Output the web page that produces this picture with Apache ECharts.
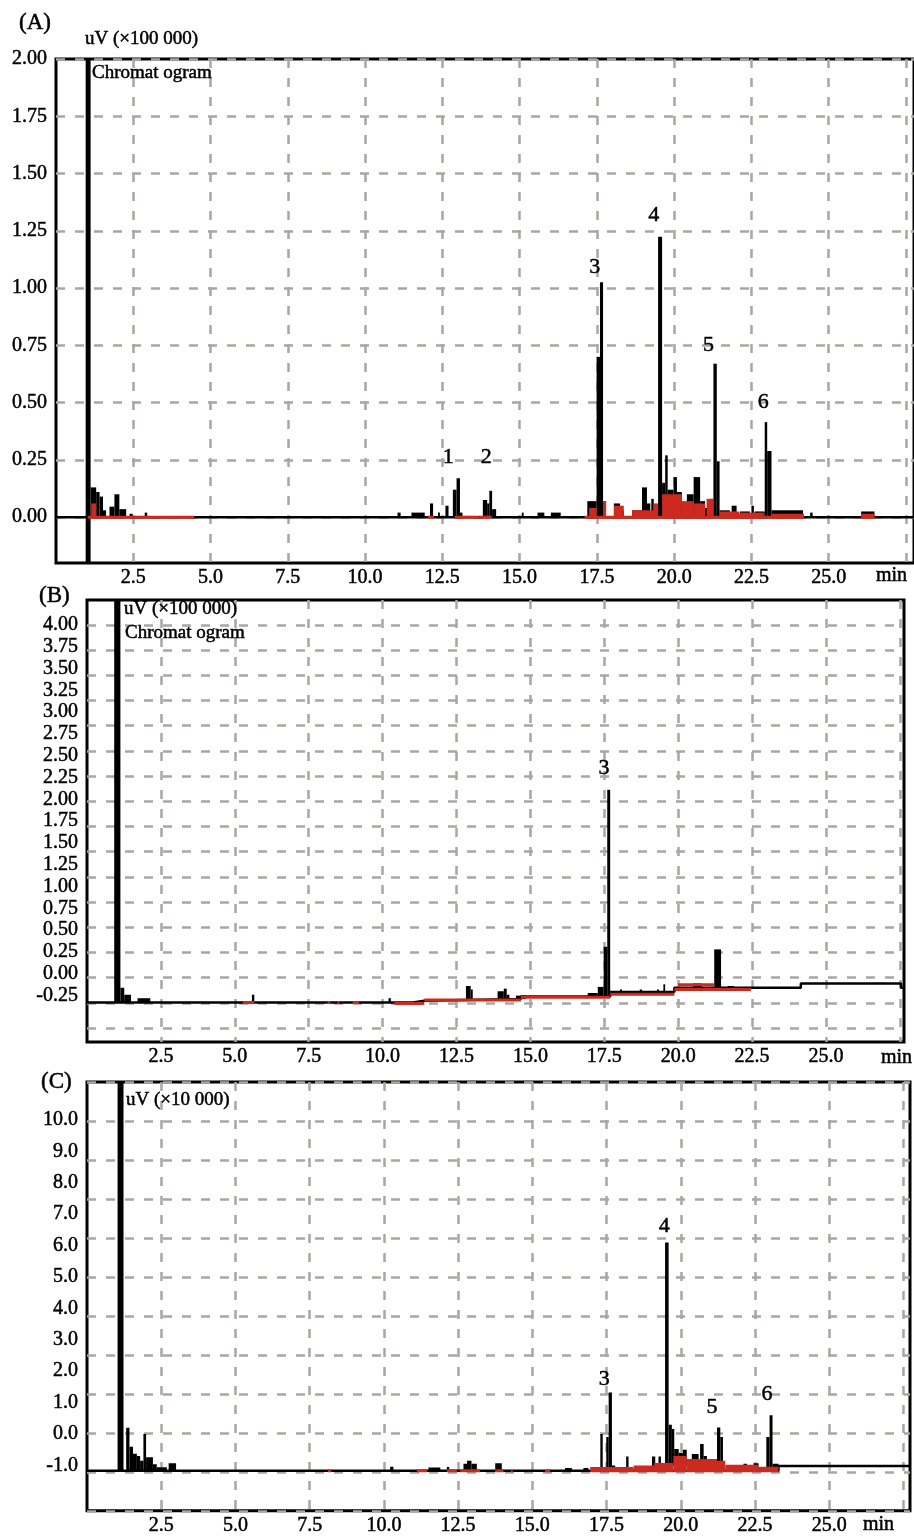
<!DOCTYPE html>
<html>
<head>
<meta charset="utf-8">
<script src="https://cdn.jsdelivr.net/npm/echarts@6/dist/echarts.min.js"></script>
<style>
html, body { margin: 0; padding: 0; background: #fff; }
#chart { width: 914px; height: 1536px; }
</style>
</head>
<body>
<div id="chart"></div>
<script>
// time axis (min) - shared by the three chromatograms
var xGridVals = [2.5, 5, 7.5, 10, 12.5, 15, 17.5, 20, 22.5, 25, 27.5];
var xLabelVals = [2.5, 5, 7.5, 10, 12.5, 15, 17.5, 20, 22.5, 25];

// ---- (A) uV x100 000 ----
var yTicksA = [0, 0.25, 0.5, 0.75, 1, 1.25, 1.5, 1.75, 2];
// peak blocks: [start, end, top, bottom]
var peaksA = [
  [0.96, 1.12, 2.0, -0.2],
  [1.12, 1.30, 0.13, 0], [1.30, 1.41, 0.11, 0], [1.41, 1.52, 0.09, 0], [1.52, 1.62, 0.03, 0],
  [1.73, 1.89, 0.046, 0], [1.89, 2.05, 0.10, 0], [2.05, 2.27, 0.035, 0], [2.38, 2.48, 0.015, 0],
  [2.87, 2.95, 0.02, 0],
  [11.05, 11.15, 0.02, 0], [11.5, 11.93, 0.02, 0], [12.1, 12.2, 0.06, 0], [12.36, 12.42, 0.02, 0],
  [12.6, 12.7, 0.05, 0], [12.84, 12.96, 0.12, 0], [12.96, 13.07, 0.17, 0], [13.07, 13.15, 0.02, 0],
  [13.81, 13.95, 0.075, 0], [13.95, 14.02, 0.06, 0], [14.02, 14.11, 0.115, 0], [14.11, 14.24, 0.035, 0],
  [15.07, 15.13, 0.02, 0], [15.58, 15.8, 0.02, 0], [16.01, 16.33, 0.02, 0],
  [17.19, 17.49, 0.07, 0], [17.49, 17.6, 0.70, 0], [17.6, 17.7, 1.025, 0], [17.7, 17.78, 0.07, 0],
  [18.05, 18.25, 0.06, 0], [18.25, 18.37, 0.03, 0], [18.64, 18.96, 0.03, 0], [18.96, 19.12, 0.13, 0],
  [19.12, 19.23, 0.06, 0], [19.26, 19.34, 0.08, 0],
  [19.48, 19.61, 1.224, 0], [19.61, 19.71, 0.15, 0], [19.71, 19.79, 0.27, 0], [19.79, 19.98, 0.12, 0],
  [19.98, 20.09, 0.175, 0], [20.09, 20.25, 0.11, 0], [20.25, 20.41, 0.06, 0], [20.41, 20.63, 0.10, 0],
  [20.63, 20.84, 0.175, 0], [20.84, 21.0, 0.07, 0], [21.0, 21.15, 0.04, 0], [21.15, 21.27, 0.08, 0],
  [21.27, 21.38, 0.67, 0], [21.38, 21.47, 0.244, 0], [21.47, 21.8, 0.03, 0], [21.86, 22.02, 0.05, 0],
  [22.13, 22.45, 0.025, 0], [22.5, 22.58, 0.05, 0], [22.6, 22.93, 0.025, 0],
  [22.93, 23.01, 0.415, 0], [23.01, 23.15, 0.289, 0], [23.15, 24.17, 0.03, 0],
  [24.4, 24.48, 0.02, 0], [26.05, 26.48, 0.025, 0]
];
// integrated (red) areas: [start, end, top]
var redFillA = [
  [1.14, 1.30, 0.06], [17.25, 17.49, 0.04], [17.7, 17.8, 0.07], [18.05, 18.37, 0.05],
  [18.64, 19.34, 0.03], [19.34, 19.48, 0.06], [19.61, 20.25, 0.10], [20.25, 20.63, 0.07],
  [20.63, 21.0, 0.06], [21.05, 21.27, 0.08], [21.47, 22.1, 0.025], [22.1, 22.9, 0.02],
  [23.15, 24.2, 0.015], [26.05, 26.48, 0.015]
];
var redBaseA = -0.006;
// red baseline pieces: [start, end, level]
var redLineA = [[1.03, 4.47, 0], [12.04, 12.23, 0], [12.9, 13.7, 0], [13.7, 14.1, 0], [17.1, 24.2, 0], [26.05, 26.48, 0]];
var baseTA = [0, 27.76];
var baseVA = [0, 0];
var noA = ['1', '2', '3', '4', '5', '6'];
var noTA = [12.69, 13.92, 17.43, 19.34, 21.11, 22.88];
var noVA = [0.26, 0.26, 1.09, 1.32, 0.75, 0.50];

// ---- (B) uV x100 000 ----
var yTicksB = [-0.25, 0, 0.25, 0.5, 0.75, 1, 1.25, 1.5, 1.75, 2, 2.25, 2.5, 2.75, 3, 3.25, 3.5, 3.75, 4];
var gridRowsB = [0, 1, 2, 3, 4, 5, 6, 7, 8, 9, 10, 11, 12, 13, 14, 15, 16];
var peaksB = [
  [0.92, 1.13, 4.3, -0.33],
  [1.13, 1.26, -0.16, -0.33], [1.26, 1.49, -0.24, -0.33], [1.71, 2.14, -0.28, -0.33],
  [5.58, 5.66, -0.24, -0.33], [10.2, 10.28, -0.28, -0.33],
  [12.82, 12.98, -0.14, -0.29], [12.98, 13.05, -0.18, -0.29], [13.89, 14.1, -0.20, -0.29],
  [14.1, 14.2, -0.17, -0.29], [14.2, 14.29, -0.24, -0.29], [14.51, 14.85, -0.25, -0.29],
  [16.94, 17.28, -0.22, -0.26], [17.28, 17.48, -0.15, -0.26], [17.48, 17.6, 0.31, -0.26],
  [17.6, 17.7, 2.11, -0.26],
  [18.03, 18.1, -0.18, -0.22], [18.7, 18.78, -0.18, -0.22], [19.28, 19.35, -0.18, -0.22],
  [19.5, 19.56, -0.12, -0.22], [20.5, 20.8, -0.11, -0.16],
  [21.22, 21.45, 0.28, -0.16], [21.45, 21.56, -0.15, -0.16], [21.67, 21.9, -0.14, -0.16]
];
var redLineB = [
  [5.27, 5.66, -0.33], [8.14, 8.23, -0.33], [8.48, 8.54, -0.33], [8.99, 9.21, -0.33],
  [10.4, 11.41, -0.34], [11.41, 14.68, -0.30], [14.68, 17.7, -0.27], [17.7, 19.87, -0.235],
  [19.87, 22.46, -0.18], [20.0, 21.22, -0.125]
];
var baseTB = [0, 11.02, 11.41, 14.68, 17.7, 19.87, 24.15, 27.54, 27.64];
var baseVB = [-0.33, -0.31, -0.29, -0.26, -0.21, -0.16, -0.11, -0.16, -0.16];
var noB = ['3'];
var noTB = [17.49];
var noVB = [2.36];

// ---- (C) uV x10 000 ----
var yTicksC = [-1, 0, 1, 2, 3, 4, 5, 6, 7, 8, 9, 10];
var peaksC = [
  [1.03, 1.23, 11.3, -1.17],
  [1.32, 1.43, 0.2, -1.17], [1.43, 1.55, -0.41, -1.17], [1.55, 1.68, -0.63, -1.17],
  [1.68, 1.79, -0.7, -1.17], [1.79, 1.9, -0.85, -1.17], [1.9, 1.99, 0.0, -1.17],
  [1.99, 2.22, -0.74, -1.17], [2.22, 2.35, -0.96, -1.17], [2.35, 2.69, -1.06, -1.17],
  [2.75, 3.0, -0.93, -1.17],
  [10.21, 10.32, -1.04, -1.17], [11.5, 11.9, -1.07, -1.17], [12.12, 12.2, -1.05, -1.17],
  [12.68, 12.8, -0.95, -1.17], [12.8, 12.95, -0.85, -1.17], [12.95, 13.13, -0.95, -1.17],
  [13.75, 13.97, -0.93, -1.17], [16.1, 16.33, -1.08, -1.17], [16.72, 16.89, -1.08, -1.17],
  [17.29, 17.37, 0.0, -1.12], [17.49, 17.57, -0.1, -1.12], [17.57, 17.68, 1.32, -1.12],
  [17.68, 17.79, -1.0, -1.12], [18.16, 18.24, -0.72, -1.1], [19.03, 19.14, -0.72, -1.1],
  [19.25, 19.33, -0.72, -1.1],
  [19.47, 19.59, 6.1, -1.1], [19.59, 19.7, 0.29, -1.0], [19.7, 19.78, 0.16, -1.0],
  [19.78, 19.93, -0.48, -1.0], [19.93, 20.07, -0.6, -1.0], [20.07, 20.2, -0.5, -1.0],
  [20.37, 20.6, -0.64, -1.0], [20.65, 20.77, -0.32, -1.0], [20.77, 20.88, -0.7, -1.0],
  [21.22, 21.33, 0.21, -1.0], [21.33, 21.42, -0.1, -1.0],
  [22.11, 22.23, -0.95, -1.1], [22.45, 22.62, -0.93, -1.1],
  [22.88, 22.99, -0.1, -1.1], [22.99, 23.09, 0.6, -1.1], [23.09, 23.29, -0.95, -1.1]
];
var redFillC = [
  [16.95, 18.41, -1.05], [18.41, 19.1, -1.0], [19.1, 19.75, -0.92], [19.75, 20.2, -0.7],
  [20.2, 21.22, -0.8], [21.22, 21.5, -0.85], [21.5, 22.6, -0.98], [22.6, 23.29, -1.04]
];
var redBaseC = -1.22;
var redLineC = [
  [8.12, 8.22, -1.17], [11.11, 11.45, -1.17], [12.12, 12.46, -1.17], [12.57, 13.24, -1.17],
  [13.75, 14.03, -1.17], [14.28, 14.34, -1.17], [15.43, 15.6, -1.17]
];
var baseTC = [0, 23.29, 27.72];
var baseVC = [-1.17, -1.02, -1.02];
var noC = ['3', '4', '5', '6'];
var noTC = [17.42, 19.44, 21.05, 22.9];
var noVC = [1.75, 6.61, 0.86, 1.27];

var serif = '"Liberation Serif", "Times New Roman", serif';
var ink = '#000';
var red = '#cc2a1f';
var gridColor = '#aaa6a1';
var dashed = { color: gridColor, width: 2.5, type: [9, 10] };
// thin outline so the small serif text reads as dark as the scanned figure
var heavy = { textBorderColor: '#000', textBorderWidth: 0.5 };

function rectItem(params, api) {
  var a = api.coord([api.value(0), api.value(2)]);
  var b = api.coord([api.value(1), api.value(3)]);
  var w = Math.max(Math.abs(b[0] - a[0]), 1.5);
  var h = Math.max(Math.abs(b[1] - a[1]), 1);
  return {
    type: 'rect',
    shape: { x: Math.min(a[0], b[0]), y: Math.min(a[1], b[1]), width: w, height: h },
    style: { fill: api.visual('color') }
  };
}
function segItem(params, api) {
  var a = api.coord([api.value(0), api.value(2)]);
  var b = api.coord([api.value(1), api.value(2)]);
  return {
    type: 'line',
    shape: { x1: a[0], y1: a[1], x2: b[0], y2: b[1] },
    style: { stroke: api.visual('color'), lineWidth: 3 }
  };
}

function blocks(data, xi, yi, color, z) {
  return { type: 'custom', xAxisIndex: xi, yAxisIndex: yi, renderItem: rectItem, data: data,
    encode: { x: [0, 1], y: [2, 3] }, itemStyle: { color: color }, clip: true, z: z, silent: true };
}
function redBlocks(fill, base, xi, yi) {
  return blocks(fill.map(function (d) { return [d[0], d[1], d[2], base]; }), xi, yi, red, 4);
}
function redSegs(segs, xi, yi) {
  return { type: 'custom', xAxisIndex: xi, yAxisIndex: yi, renderItem: segItem, data: segs,
    encode: { x: [0, 1], y: 2 }, itemStyle: { color: red }, clip: true, z: 5, silent: true };
}
function baseline(ts, vs, xi, yi) {
  return { type: 'line', xAxisIndex: xi, yAxisIndex: yi, step: 'end', symbol: 'none',
    data: ts.map(function (t, i) { return [t, vs[i]]; }),
    lineStyle: { color: ink, width: 2.5 }, z: 3, silent: true };
}
function peakNames(names, ts, vs, xi, yi) {
  return { type: 'scatter', xAxisIndex: xi, yAxisIndex: yi, symbolSize: 1,
    itemStyle: { color: 'rgba(0,0,0,0)' },
    data: ts.map(function (t, i) { return [t, vs[i], names[i]]; }),
    label: Object.assign({ show: true, position: 'inside', formatter: function (p) { return p.value[2]; },
      fontSize: 22, fontFamily: serif, color: ink, opacity: 1 }, heavy),
    z: 6, silent: true };
}

function xAxisFor(gi, max) {
  return {
    type: 'value', gridIndex: gi, min: 0, max: max,
    axisLine: { show: false },
    axisTick: { show: false, customValues: xGridVals },
    axisLabel: Object.assign({ customValues: xLabelVals, formatter: function (v) { return v.toFixed(1); },
      fontSize: 20, fontFamily: serif, color: ink, margin: 5 }, heavy),
    splitLine: { show: true, lineStyle: dashed }
  };
}
function yLabelAxis(gi, min, max, ticks, digits, withLines) {
  return {
    type: 'value', gridIndex: gi, min: min, max: max,
    axisLine: { show: false },
    axisTick: { show: false, customValues: ticks },
    axisLabel: Object.assign({ customValues: ticks, formatter: function (v) { return v.toFixed(digits); },
      fontSize: 20, fontFamily: serif, color: ink, margin: 9 }, heavy),
    splitLine: { show: withLines, lineStyle: dashed }
  };
}
function note(x, y, text, size, align) {
  return { type: 'text', x: x, y: y, z: 10,
    style: { text: text, fontSize: size, fontFamily: serif, fill: ink,
      stroke: ink, lineWidth: 0.5,
      align: align || 'left', verticalAlign: 'middle' } };
}

var gridBox = { show: true, borderColor: ink, borderWidth: 3, backgroundColor: 'transparent', containLabel: false };

var option = {
  animation: false,
  backgroundColor: '#fff',
  grid: [
    Object.assign({ left: 56, top: 59, width: 862, height: 504 }, gridBox),
    Object.assign({ left: 87, top: 600, width: 817, height: 442 }, gridBox),
    Object.assign({ left: 87, top: 1082, width: 823, height: 430 }, gridBox)
  ],
  xAxis: [xAxisFor(0, 27.76), xAxisFor(1, 27.64), xAxisFor(2, 27.72)],
  yAxis: [
    yLabelAxis(0, -0.2, 2.0, yTicksA, 2, true),
    yLabelAxis(1, -0.782, 4.287, yTicksB, 2, false),
    { type: 'value', gridIndex: 1, min: -0.556, max: 16.99, position: 'left',
      axisLine: { show: false }, axisTick: { show: false, customValues: gridRowsB },
      axisLabel: { show: false }, splitLine: { show: true, lineStyle: dashed } },
    yLabelAxis(2, -2.444, 11.206, yTicksC, 1, false),
    { type: 'value', gridIndex: 2, min: 0, max: 11, interval: 1, position: 'left',
      axisLine: { show: false }, axisTick: { show: false },
      axisLabel: { show: false }, splitLine: { show: true, lineStyle: dashed } }
  ],
  series: [
    baseline(baseTA, baseVA, 0, 0),
    blocks(peaksA, 0, 0, ink, 3),
    redBlocks(redFillA, redBaseA, 0, 0),
    redSegs(redLineA, 0, 0),
    peakNames(noA, noTA, noVA, 0, 0),

    redSegs(redLineB, 1, 1),
    baseline(baseTB, baseVB, 1, 1),
    blocks(peaksB, 1, 1, ink, 3),
    peakNames(noB, noTB, noVB, 1, 1),

    baseline(baseTC, baseVC, 2, 3),
    blocks(peaksC, 2, 3, ink, 3),
    redBlocks(redFillC, redBaseC, 2, 3),
    redSegs(redLineC, 2, 3),
    peakNames(noC, noTC, noVC, 2, 3)
  ],
  graphic: [
    note(19, 23, '(A)', 23),
    note(85, 39, 'uV (×100 000)', 19),
    note(92, 73, 'Chromat ogram', 19),
    note(907, 576, 'min', 20, 'right'),

    note(39, 596, '(B)', 23),
    note(124, 609, 'uV (×100 000)', 19),
    note(125, 633, 'Chromat ogram', 19),
    note(912, 1058, 'min', 20, 'right'),

    note(41, 1082, '(C)', 23),
    note(126, 1100, 'uV (×10 000)', 19),
    note(894, 1525, 'min', 20, 'right')
  ]
};

var chart = echarts.init(document.getElementById('chart'));
chart.setOption(option);
</script>
</body>
</html>
